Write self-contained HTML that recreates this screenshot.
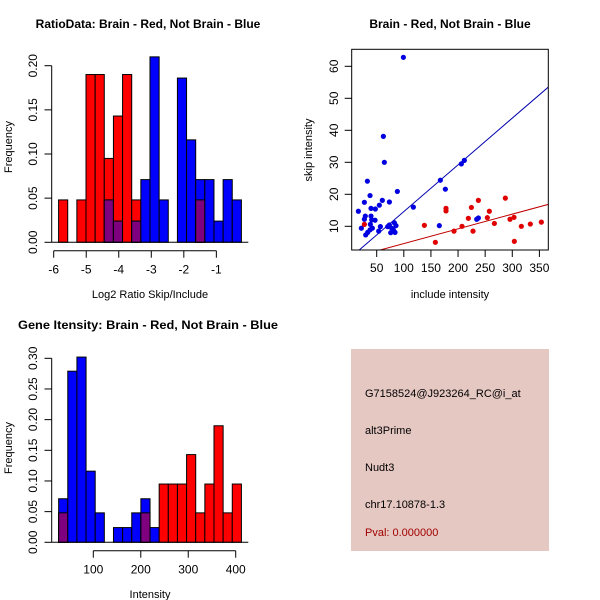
<!DOCTYPE html>
<html><head><meta charset="utf-8"><style>
body{margin:0;background:#fff}
svg{display:block;font-family:"Liberation Sans",sans-serif}
</style></head><body>
<svg id="chart" width="600" height="600" viewBox="0 0 600 600">
<g id="p1"></g>
<g id="p2"></g>
<g id="p3"></g>
<g id="p4">
<rect x="351" y="349" width="198" height="202" fill="#e6c8c2"/>
<text x="365" y="397" font-size="11">G7158524@J923264_RC@i_at</text>
<text x="365" y="434" font-size="11">alt3Prime</text>
<text x="365" y="471" font-size="11">Nudt3</text>
<text x="365" y="508" font-size="11">chr17.10878-1.3</text>
<text x="365" y="536" font-size="11" fill="#a00000">Pval: 0.000000</text>
</g>
</svg>
<script>
// Ratio histogram data
const ratioStart = -5.85, ratioBinW = 0.281;
const ratioRed  = [0.048,0,0.048,0.19,0.19,0.095,0.143,0.19,0.048,0,0,0,0,0,0,0.048,0,0,0,0];
const ratioBlue = [0,0,0,0,0,0.048,0.024,0,0.024,0.071,0.21,0.048,0,0.186,0.116,0.071,0.071,0.024,0.071,0.048];
const ratioXTicks = [-6,-5,-4,-3,-2,-1];
const ratioYTicks = [0,0.05,0.10,0.15,0.20];
// Intensity histogram data
const intStart = 27, intBinW = 19.25;
const intRed  = [0.048,0,0,0,0,0,0,0,0,0.048,0,0.095,0.095,0.095,0.143,0.048,0.095,0.19,0.048,0.095];
const intBlue = [0.071,0.279,0.302,0.116,0.048,0,0.024,0.024,0.048,0.071,0.024,0,0,0,0,0,0,0,0,0];
const intXTicks = [100,200,300,400];
const intYTicks = [0,0.05,0.10,0.15,0.20,0.25,0.30];
// Scatter data
const blueX = [16.2,21.7,27.3,27.3,29,29.7,32.8,33.4,37.7,37.7,38.3,39.5,39.5,40.8,42,47.5,47,53.7,54.9,56.8,60.4,62.3,64.1,73.4,70.3,73.4,75.8,77.7,80.7,82.6,83.8,85.6,88.1,99.2,117.6,165.5,167.4,176.6,206.1,211.6,234.4,237.5];
const blueY = [14.7,9.4,17.5,12.2,13.2,7.3,24.1,8.1,19.6,8.9,10.6,15.6,13.2,12,9.4,15.4,11.9,8.5,16.6,9.9,18.1,38.1,30,17.6,9.9,10.4,8,9.4,8.9,11.1,8.1,10.2,20.9,62.8,16,10.2,24.4,21.6,29.5,30.6,12.2,12.6];
const redX = [27.3,137.9,158.2,177.8,177.8,192.6,207.3,219,224.6,227.6,237.5,254,257.7,267,287.2,295.8,303.2,303.8,316.7,333.3,353.6];
const redY = [10.6,10.3,5,15.6,14.8,8.5,10,12.5,15.9,8.5,18.1,12.7,14.7,10.9,18.8,12.2,12.8,5.3,10,10.7,11.3];
const blueSlope = 0.146, redSlope = 0.046;
const scXTicks = [50,100,150,200,250,300,350];
const scYTicks = [10,20,30,40,50,60];

const NS="http://www.w3.org/2000/svg";
function mk(parent,tag,attrs,txt){const e=document.createElementNS(NS,tag);for(const k in attrs)e.setAttribute(k,attrs[k]);if(txt!==undefined)e.textContent=txt;parent.appendChild(e);return e;}

function histPanel(g,cfg){
  const sx=v=>cfg.x0px+(v-cfg.x0v)*cfg.kx, sy=v=>cfg.base-v*cfg.ky;
  const ta={x:cfg.titleX,y:cfg.titleY,'font-size':12,'font-weight':'bold','text-anchor':'middle'};
  if(cfg.titleLen){ta.textLength=cfg.titleLen;ta.lengthAdjust='spacingAndGlyphs';}
  const t=mk(g,'text',ta,cfg.title);
  
  
  for(let i=0;i<cfg.red.length;i++){
    const xa=sx(cfg.start+i*cfg.w), xb=sx(cfg.start+(i+1)*cfg.w);
    const r=cfg.red[i], b=cfg.blue[i], m=Math.min(r,b);
    if(r>0){const e=mk(g,'rect',{x:xa,y:sy(r),width:xb-xa,height:sy(0)-sy(r),fill:'#ff0000',stroke:'#000','stroke-width':1});
      
      }
    if(b>0){const e=mk(g,'rect',{x:xa,y:sy(b),width:xb-xa,height:sy(0)-sy(b),fill:'#0000ff',stroke:'#000','stroke-width':1});
      
      }
    if(m>0){const e=mk(g,'rect',{x:xa,y:sy(m),width:xb-xa,height:sy(0)-sy(m),fill:'#7f007f',stroke:'#000','stroke-width':1});
      
      }
  }
  mk(g,'line',{x1:51.7,x2:248.3,y1:sy(0),y2:sy(0),stroke:'#000'});
  const yt=cfg.yTicks;
  mk(g,'line',{x1:51.7,x2:51.7,y1:sy(yt[0]),y2:sy(yt[yt.length-1]),stroke:'#000'});
  yt.forEach(v=>{mk(g,'line',{x1:44.5,x2:51.7,y1:sy(v),y2:sy(v),stroke:'#000'});
    const l=mk(g,'text',{x:0,y:0,'font-size':12,'text-anchor':'middle',transform:`translate(37,${sy(v)}) rotate(-90)`},v.toFixed(2));
    
    });
  const xt=cfg.xTicks, ay=cfg.base+8.4;
  mk(g,'line',{x1:sx(xt[0]),x2:sx(xt[xt.length-1]),y1:ay,y2:ay,stroke:'#000'});
  xt.forEach(v=>{mk(g,'line',{x1:sx(v),x2:sx(v),y1:ay,y2:ay+7,stroke:'#000'});
    const l=mk(g,'text',{x:sx(v),y:ay+23,'font-size':12,'text-anchor':'middle'},String(v));
    
    });
  const xl=mk(g,'text',{x:150,y:cfg.xlabY,'font-size':11,'text-anchor':'middle'},cfg.xlab);
  
  
  const yl=mk(g,'text',{x:0,y:0,'font-size':11,'text-anchor':'middle',transform:`translate(12,${cfg.ylabY}) rotate(-90)`},'Frequency');
  
  
}

histPanel(document.getElementById('p1'),{x0v:-6,x0px:53.7,kx:32.53,base:242.3,ky:883,start:ratioStart,w:ratioBinW,
  red:ratioRed,blue:ratioBlue,xTicks:ratioXTicks,yTicks:ratioYTicks,title:'RatioData: Brain - Red, Not Brain - Blue',
  titleX:148,titleY:28,xlab:'Log2 Ratio Skip/Include',xlabY:298,ylabY:147});
histPanel(document.getElementById('p3'),{x0v:100,x0px:93.3,kx:0.4747,base:542.3,ky:613.3,start:intStart,w:intBinW,
  red:intRed,blue:intBlue,xTicks:intXTicks,yTicks:intYTicks,title:'Gene Itensity: Brain - Red, Not Brain - Blue',
  titleX:148,titleY:329,titleLen:260,xlab:'Intensity',xlabY:598,ylabY:448});

(function(){
  const g=document.getElementById('p2');
  const L=351.7,R=548.3,T=49.3,B=250;
  const sx=v=>376.7+(v-50)*0.5423, sy=v=>226.3-(v-10)*3.2;
  const t=mk(g,'text',{x:450,y:28,'font-size':12,'font-weight':'bold','text-anchor':'middle'},'Brain - Red, Not Brain - Blue');
  
  
  const cp=mk(g,'clipPath',{id:'clip2'});mk(cp,'rect',{x:L,y:T,width:R-L,height:B-T});
  const lg=mk(g,'g',{'clip-path':'url(#clip2)'});
  const xa=0,xb=400;
  const bl=mk(lg,'line',{x1:sx(xa),y1:sy(blueSlope*xa),x2:sx(xb),y2:sy(blueSlope*xb),stroke:'#0000b0','stroke-width':1});
  
  
  const rl=mk(lg,'line',{x1:sx(xa),y1:sy(redSlope*xa),x2:sx(xb),y2:sy(redSlope*xb),stroke:'#c00000','stroke-width':1});
  
  
  blueX.forEach((v,i)=>{const c=mk(g,'circle',{cx:sx(v),cy:sy(blueY[i]),r:2.6,fill:'#0000e0'});
    
    });
  redX.forEach((v,i)=>{const c=mk(g,'circle',{cx:sx(v),cy:sy(redY[i]),r:2.6,fill:'#e00000'});
    
    });
  mk(g,'rect',{x:L,y:T,width:R-L,height:B-T,fill:'none',stroke:'#000'});
  scXTicks.forEach(v=>{mk(g,'line',{x1:sx(v),x2:sx(v),y1:B,y2:B+7,stroke:'#000'});
    const l=mk(g,'text',{x:sx(v),y:B+22,'font-size':12,'text-anchor':'middle'},String(v));
    
    });
  scYTicks.forEach(v=>{mk(g,'line',{x1:L-7,x2:L,y1:sy(v),y2:sy(v),stroke:'#000'});
    const l=mk(g,'text',{x:0,y:0,'font-size':12,'text-anchor':'middle',transform:`translate(338,${sy(v)}) rotate(-90)`},String(v));
    
    });
  const xl=mk(g,'text',{x:450,y:298,'font-size':11,'text-anchor':'middle'},'include intensity');
  
  
  const yl=mk(g,'text',{x:0,y:0,'font-size':11,'text-anchor':'middle',transform:'translate(312,150) rotate(-90)'},'skip intensity');
  
  
})();
</script>
</body></html>
